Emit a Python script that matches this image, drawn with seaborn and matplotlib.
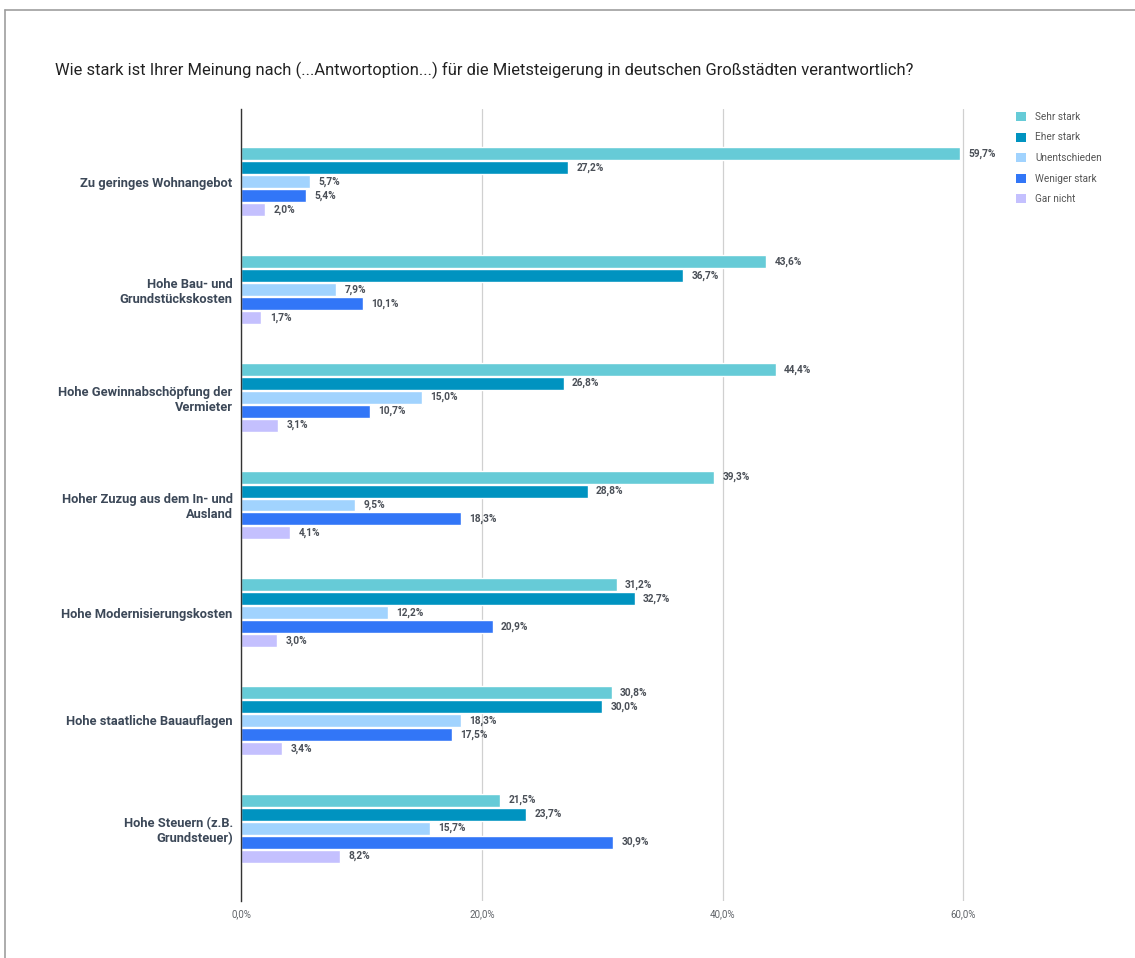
import matplotlib
matplotlib.use("Agg")
import matplotlib.pyplot as plt
from matplotlib.lines import Line2D
from matplotlib.patches import Patch
import seaborn as sns
import pandas as pd

categories = [
    "Zu geringes Wohnangebot",
    "Hohe Bau- und\nGrundstückskosten",
    "Hohe Gewinnabschöpfung der\nVermieter",
    "Hoher Zuzug aus dem In- und\nAusland",
    "Hohe Modernisierungskosten",
    "Hohe staatliche Bauauflagen",
    "Hohe Steuern (z.B.\nGrundsteuer)",
]
series = ["Sehr stark", "Eher stark", "Unentschieden", "Weniger stark", "Gar nicht"]
sehr_stark = [59.7, 43.6, 44.4, 39.3, 31.2, 30.8, 21.5]
eher_stark = [27.2, 36.7, 26.8, 28.8, 32.7, 30.0, 23.7]
unentschieden = [5.7, 7.9, 15.0, 9.5, 12.2, 18.3, 15.7]
weniger_stark = [5.4, 10.1, 10.7, 18.3, 20.9, 17.5, 30.9]
gar_nicht = [2.0, 1.7, 3.1, 4.1, 3.0, 3.4, 8.2]
values = [sehr_stark, eher_stark, unentschieden, weniger_stark, gar_nicht]
x_ticks = [0, 20, 40, 60]
x_tick_labels = ["0,0%", "20,0%", "40,0%", "60,0%"]
colors = ["#66CBD7", "#0093C0", "#A1D3FE", "#3276F7", "#C4C0FE"]

rows = []
for s, vals in zip(series, values):
    for c, v in zip(categories, vals):
        rows.append({"Kategorie": c, "Antwort": s, "Wert": v})
df = pd.DataFrame(rows)

sns.set_theme(style="white")
plt.rcParams["font.family"] = ["Roboto", "DejaVu Sans"]

W, H = 1135, 958
fig = plt.figure(figsize=(W / 100, H / 100), dpi=100)
left_px, right_px, top_px, bot_px = 241, 241 + 62 * 12.04, 109, 901
ax = fig.add_axes([left_px / W, 1 - bot_px / H, (right_px - left_px) / W, (bot_px - top_px) / H])

sns.barplot(data=df, y="Kategorie", x="Wert", hue="Antwort", order=categories,
            hue_order=series, palette=colors, orient="h", width=0.648, gap=0.07,
            legend=False, ax=ax, saturation=1)

ax.set_xlim(0, 62)
ax.set_ylim(6.676, -0.676)
ax.set_xticks(x_ticks)
ax.set_xticklabels(x_tick_labels, fontsize=7, color="#5f6368")
ax.tick_params(axis="x", length=0, pad=6)
ax.tick_params(axis="y", length=0, pad=6)
for lbl in ax.get_yticklabels():
    lbl.set_fontsize(9.3)
    lbl.set_fontweight("bold")
    lbl.set_color("#3c4858")
    lbl.set_horizontalalignment("right")
ax.set_xlabel("")
ax.set_ylabel("")
ax.grid(axis="x", color="#d0d0d0", linewidth=0.9)
ax.grid(axis="y", visible=False)
ax.set_axisbelow(True)
for sp in ["top", "right", "bottom"]:
    ax.spines[sp].set_visible(False)
ax.spines["left"].set_color("#333333")
ax.spines["left"].set_linewidth(1.0)
ax.spines["left"].set_zorder(5)

for cont, vals in zip(ax.containers, values):
    ax.bar_label(cont, labels=[f"{v:.1f}".replace(".", ",") + "%" for v in vals],
                 padding=6, fontsize=7.3, fontweight="bold", color="#4a4f57")

handles = [Patch(facecolor=c, edgecolor="none", label=s) for s, c in zip(series, colors)]
fig.legend(handles=handles, loc="upper left", bbox_to_anchor=(1012 / W, 1 - 108 / H),
           frameon=False, fontsize=7.2, labelcolor="#555555", handlelength=1.0,
           handleheight=1.0, handletextpad=0.9, labelspacing=1.05, borderaxespad=0)

fig.text(55 / W, 1 - 70 / H,
         "Wie stark ist Ihrer Meinung nach (...Antwortoption...) für die Mietsteigerung in deutschen Großstädten verantwortlich?",
         fontsize=11.85, color="#222222", va="center", ha="left")

fig.add_artist(Line2D([5 / W, 1], [1 - 10 / H, 1 - 10 / H], color="#9e9e9e", lw=1.2))
fig.add_artist(Line2D([5 / W, 5 / W], [0, 1 - 10 / H], color="#9e9e9e", lw=1.2))

fig.savefig("out.png", dpi=100, facecolor="white")
